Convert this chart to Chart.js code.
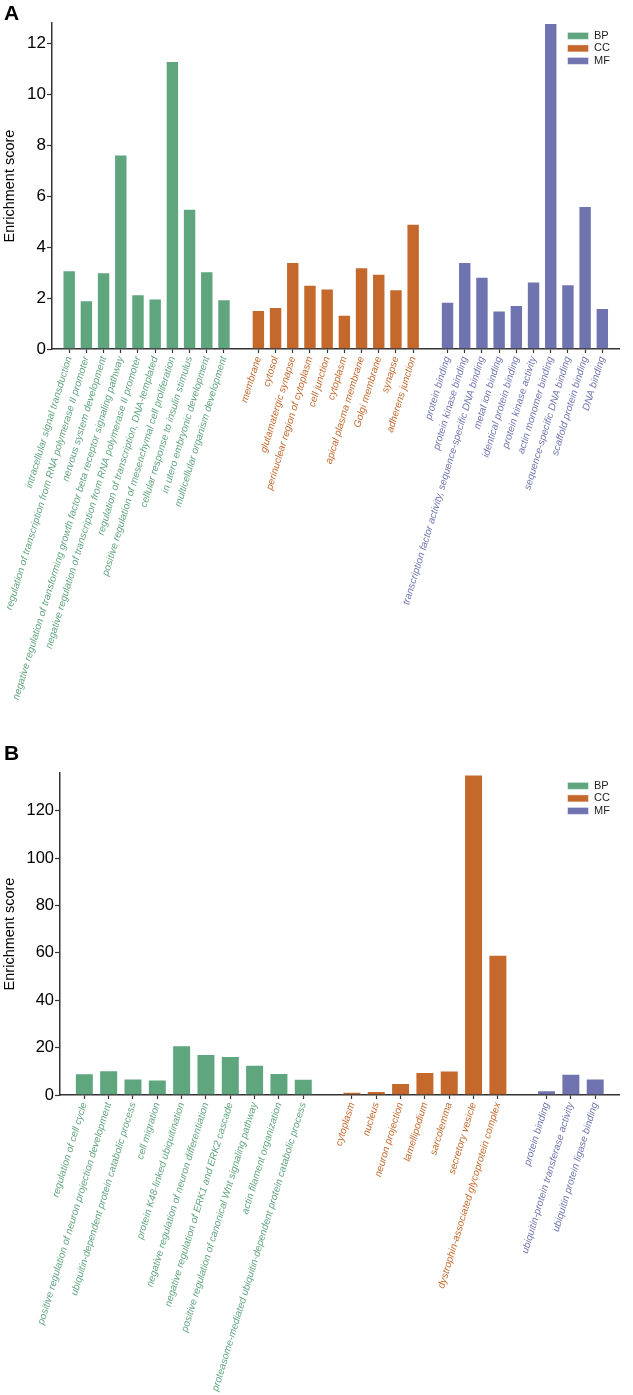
<!DOCTYPE html>
<html>
<head>
<meta charset="utf-8">
<script src="https://cdn.jsdelivr.net/npm/chart.js@4.4.1/dist/chart.umd.min.js"></script>
<style>
  html, body { margin: 0; padding: 0; background: #fff; }
  body { width: 633px; height: 1395px; position: relative; overflow: hidden; font-family: "Liberation Sans", Arial, sans-serif; }
  .panel { position: absolute; left: 0; width: 633px; }
  #panelA { top: 0; height: 730px; }
  #panelB { top: 730px; height: 665px; }
  .letter { position: absolute; left: 4px; font-weight: bold; font-size: 21px; line-height: 1; color: #000; z-index: 2; }
</style>
</head>
<body>
<div class="letter" style="top:2px">A</div>
<div class="panel" id="panelA"><canvas id="chartA"></canvas></div>
<div class="letter" style="top:742px">B</div>
<div class="panel" id="panelB"><canvas id="chartB"></canvas></div>
<script>
// panel A
const aBpLabels = [
  'intracellular signal transduction',
  'regulation of transcription from RNA polymerase II promoter',
  'nervous system development',
  'negative regulation of transforming growth factor beta receptor signaling pathway',
  'negative regulation of transcription from RNA polymerase II promoter',
  'regulation of transcription, DNA-templated',
  'positive regulation of mesenchymal cell proliferation',
  'cellular response to insulin stimulus',
  'in utero embryonic development',
  'multicellular organism development'
];
const aBpValues = [3.09, 1.91, 3.01, 7.64, 2.15, 1.98, 11.31, 5.51, 3.05, 1.95];
const aCcLabels = [
  'membrane', 'cytosol', 'glutamatergic synapse', 'perinuclear region of cytoplasm', 'cell junction',
  'cytoplasm', 'apical plasma membrane', 'Golgi membrane', 'synapse', 'adherens junction'
];
const aCcValues = [1.53, 1.65, 3.42, 2.52, 2.38, 1.34, 3.21, 2.95, 2.35, 4.92];
const aMfLabels = [
  'protein binding', 'protein kinase binding', 'transcription factor activity, sequence-specific DNA binding',
  'metal ion binding', 'identical protein binding', 'protein kinase activity', 'actin monomer binding',
  'sequence-specific DNA binding', 'scaffold protein binding', 'DNA binding'
];
const aMfValues = [1.86, 3.42, 2.84, 1.51, 1.73, 2.65, 12.8, 2.54, 5.61, 1.61];

// panel B
const bBpLabels = [
  'regulation of cell cycle',
  'positive regulation of neuron projection development',
  'ubiquitin-dependent protein catabolic process',
  'cell migration',
  'protein K48-linked ubiquitination',
  'negative regulation of neuron differentiation',
  'negative regulation of ERK1 and ERK2 cascade',
  'positive regulation of canonical Wnt signaling pathway',
  'actin filament organization',
  'proteasome-mediated ubiquitin-dependent protein catabolic process'
];
const bBpValues = [9.2, 10.5, 7.0, 6.5, 21.0, 17.3, 16.5, 12.8, 9.3, 6.9];
const bCcLabels = [
  'cytoplasm', 'nucleus', 'neuron projection', 'lamellipodium', 'sarcolemma',
  'secretory vesicle', 'dystrophin-associated glycoprotein complex'
];
const bCcValues = [1.4, 1.7, 5.1, 9.7, 10.3, 135.4, 59.2];
const bMfLabels = ['protein binding', 'ubiquitin-protein transferase activity', 'ubiquitin protein ligase binding'];
const bMfValues = [2.0, 9.0, 7.0];

const colors = { BP: '#5fa57e', CC: '#c4682c', MF: '#6f74b1' };
const family = '"Liberation Sans", Arial, sans-serif';

// puts the legend in the top-right corner of the plot area
const legendInside = {
  id: 'legendInside',
  afterLayout(chart) {
    const lg = chart.legend;
    const area = chart.chartArea;
    const pad = lg.options.labels.padding;
    lg.left = area.right - 52 - pad;
    lg.right = lg.left + lg.width;
    lg.top = area.top + 14 - 6.6 - pad;
    lg.bottom = lg.top + lg.height;
  }
};

function buildPanel(canvasId, groups, opts) {
  const labels = [''];
  const tickColors = [''];
  const starts = [];
  groups.forEach((g, gi) => {
    if (gi > 0) { labels.push(''); tickColors.push(''); }
    starts.push(labels.length);
    g.labels.forEach((l) => { labels.push(l); tickColors.push(colors[g.name]); });
  });
  labels.push('');
  tickColors.push('');

  const datasets = groups.map((g, gi) => {
    const data = labels.map(() => null);
    g.values.forEach((v, i) => { data[starts[gi] + i] = v; });
    return {
      label: g.name,
      data,
      backgroundColor: colors[g.name],
      borderColor: 'rgba(255,255,255,0.45)',
      borderWidth: 1
    };
  });

  return new Chart(document.getElementById(canvasId), {
    type: 'bar',
    data: { labels, datasets },
    options: {
      responsive: true,
      maintainAspectRatio: false,
      animation: false,
      layout: { padding: { top: opts.top, right: 3, left: 0, bottom: 0 } },
      datasets: { bar: { grouped: false, categoryPercentage: 1, barPercentage: 0.78 } },
      plugins: {
        legend: {
          position: 'chartArea',
          align: 'start',
          labels: { boxWidth: 21, boxHeight: 7, padding: 1.5, color: '#222', font: { size: 11, family } }
        },
        tooltip: { enabled: false }
      },
      scales: {
        x: {
          offset: false,
          grid: {
            display: true, drawOnChartArea: false, offset: false, tickLength: 4, tickWidth: 1.2,
            tickColor: (ctx) => (tickColors[ctx.index] ? '#333' : 'rgba(0,0,0,0)')
          },
          border: { display: true, color: '#333', width: 1.5 },
          ticks: {
            autoSkip: false, minRotation: 73, maxRotation: 73, padding: 2,
            color: (ctx) => tickColors[ctx.index] || '#000',
            font: { size: 10, style: 'italic', family }
          },
          afterFit: (s) => { s.height = opts.xHeight; }
        },
        y: {
          min: 0,
          max: opts.yMax,
          ticks: { stepSize: opts.step, color: '#000', padding: 1, font: { size: opts.tickSize, family } },
          grid: { display: true, drawOnChartArea: false, tickLength: 5, tickWidth: 1.2, tickColor: '#333' },
          border: { display: true, color: '#333', width: 1.5 },
          title: {
            display: true, text: 'Enrichment score', color: '#000',
            font: { size: 14.5, family }, padding: { top: 1, bottom: 0 }
          },
          afterBuildTicks: (s) => { s.ticks = s.ticks.filter((t) => t.value % opts.step === 0); },
          afterFit: (s) => { s.width = opts.yWidth; }
        }
      }
    },
    plugins: [legendInside]
  });
}

buildPanel('chartA', [
  { name: 'BP', labels: aBpLabels, values: aBpValues },
  { name: 'CC', labels: aCcLabels, values: aCcValues },
  { name: 'MF', labels: aMfLabels, values: aMfValues }
], { top: 23, xHeight: 381, yWidth: 52, yMax: 12.8, step: 2, tickSize: 17 });

buildPanel('chartB', [
  { name: 'BP', labels: bBpLabels, values: bBpValues },
  { name: 'CC', labels: bCcLabels, values: bCcValues },
  { name: 'MF', labels: bMfLabels, values: bMfValues }
], { top: 43, xHeight: 300, yWidth: 60, yMax: 136, step: 20, tickSize: 16.5 });
</script>
</body>
</html>
